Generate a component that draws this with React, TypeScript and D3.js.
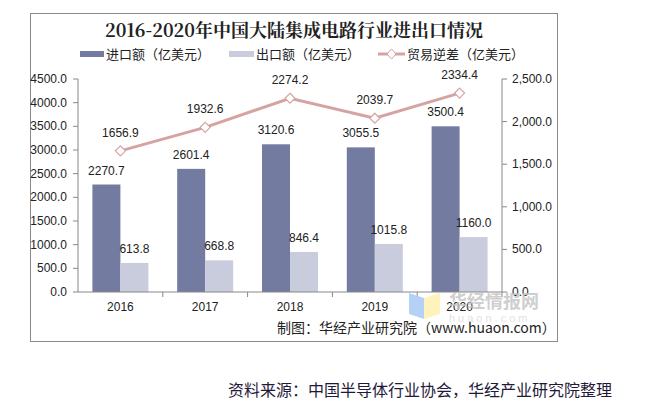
import React from "react";
import * as d3 from "d3";

const years = ["2016", "2017", "2018", "2019", "2020"];
const imports = [2270.7, 2601.4, 3120.6, 3055.5, 3500.4];
const exportsV = [613.8, 668.8, 846.4, 1015.8, 1160.0];
const deficit = [1656.9, 1932.6, 2274.2, 2039.7, 2334.4];
const leftTicks = [0, 500, 1000, 1500, 2000, 2500, 3000, 3500, 4000, 4500];
const rightTicks = [0, 500, 1000, 1500, 2000, 2500];

const W = 648, H = 414;
const plotL = 78, plotR = 502, plotT = 79, plotB = 292;
const IMP = "#737ca0", EXP = "#c8ccdc", LINE = "#d6a3a3";
const sans = "Arial, 'Liberation Sans', 'Noto Sans CJK SC', sans-serif";
const cjk = "'Noto Sans CJK SC', sans-serif";

export default function App() {
  const x = d3.scaleBand().domain(years).range([plotL, plotR]);
  const yL = d3.scaleLinear().domain([0, 4500]).range([plotB, plotT]);
  const yR = d3.scaleLinear().domain([0, 2500]).range([plotB, plotT]);
  const barW = 28;
  const cx = (y: string) => (x(y) as number) + x.bandwidth() / 2;
  const line = d3
    .line<number>()
    .x((_, i) => cx(years[i]))
    .y((d) => yR(d));
  const fmt = d3.format(",.1f");

  return (
    <svg width={W} height={H} style={{ position: "absolute", left: 0, top: 0 }}>
      <rect x={0} y={0} width={W} height={H} fill="#fff" />
      <rect x={30.5} y={13.5} width={527} height={328} fill="#fff" stroke="#8a8a8a" />
      <text x={294} y={37} textAnchor="middle" fontFamily="'Noto Serif CJK SC', 'DejaVu Serif', serif" fontWeight="bold" fontSize={18} fill="#222">
        2016-2020年中国大陆集成电路行业进出口情况
      </text>
      {/* legend */}
      <g fontFamily={cjk} fontSize={13} fill="#222">
        <rect x={80} y={51} width={24} height={6} fill={IMP} />
        <text x={106} y={59}>进口额（亿美元）</text>
        <rect x={229} y={51} width={25} height={6} fill={EXP} />
        <text x={256} y={59}>出口额（亿美元）</text>
        <line x1={378} x2={405} y1={54} y2={54} stroke={LINE} strokeWidth={3} />
        <path d="M391.5,49 L396,54 L391.5,59 L387,54 Z" fill="#fff" stroke={LINE} strokeWidth={1} />
        <text x={407} y={59}>贸易逆差（亿美元）</text>
      </g>
      {/* left axis */}
      <line x1={plotL} x2={plotL} y1={plotT} y2={plotB} stroke="#888" />
      {leftTicks.map((t) => (
        <g key={"l" + t}>
          <line x1={plotL - 5} x2={plotL} y1={yL(t)} y2={yL(t)} stroke="#888" />
          <text x={67} y={yL(t) + 4} textAnchor="end" fontFamily={sans} fontSize={12} fill="#222">
            {t.toFixed(1)}
          </text>
        </g>
      ))}
      {/* right axis */}
      <line x1={plotR} x2={plotR} y1={plotT} y2={plotB} stroke="#888" />
      {rightTicks.map((t) => (
        <g key={"r" + t}>
          <line x1={plotR} x2={plotR + 5} y1={yR(t)} y2={yR(t)} stroke="#888" />
          <text x={512} y={yR(t) + 4} fontFamily={sans} fontSize={12} fill="#222">
            {fmt(t)}
          </text>
        </g>
      ))}
      {/* bars */}
      {years.map((yr, i) => (
        <g key={yr}>
          <rect x={cx(yr) - barW} y={yL(imports[i])} width={barW} height={plotB - yL(imports[i])} fill={IMP} />
          <rect x={cx(yr)} y={yL(exportsV[i])} width={barW} height={plotB - yL(exportsV[i])} fill={EXP} />
          <text x={cx(yr) - barW / 2} y={yL(imports[i]) - 10} textAnchor="middle" fontFamily={sans} fontSize={12} fill="#222">
            {imports[i].toFixed(1)}
          </text>
          <text x={cx(yr) + barW / 2} y={yL(exportsV[i]) - 10} textAnchor="middle" fontFamily={sans} fontSize={12} fill="#222">
            {exportsV[i].toFixed(1)}
          </text>
        </g>
      ))}
      {/* x axis */}
      <line x1={plotL} x2={plotR} y1={plotB} y2={plotB} stroke="#888" />
      {years.map((yr, i) => (
        <g key={"x" + yr}>
          <line x1={(x(yr) as number) + x.bandwidth()} x2={(x(yr) as number) + x.bandwidth()} y1={plotB} y2={plotB + 5} stroke="#888" />
          <text x={cx(yr)} y={plotB + 19} textAnchor="middle" fontFamily={sans} fontSize={12} fill="#222">
            {yr}
          </text>
        </g>
      ))}
      {/* watermark */}
      <g>
        <path d="M409,293 L424,298 L424,319 L409,314 Z" fill="#a9c9f5" opacity={0.85} />
        <path d="M424,298 L440,293 L440,314 L424,319 Z" fill="#fff0b0" opacity={0.85} />
        <text x={449} y={308} fontFamily={cjk} fontWeight="bold" fontSize={18} fill="#c4c4c4" opacity={0.8}>华经情报网</text>
        <text x={449} y={322} fontFamily={sans} fontSize={11} fill="#e2e2e2" letterSpacing={3}>huaon.com</text>
      </g>
      {/* line */}
      <path d={line(deficit) as string} fill="none" stroke={LINE} strokeWidth={3} />
      {deficit.map((d, i) => (
        <g key={"d" + i}>
          <path
            d={`M${cx(years[i])},${yR(d) - 5} L${cx(years[i]) + 5},${yR(d)} L${cx(years[i])},${yR(d) + 5} L${cx(years[i]) - 5},${yR(d)} Z`}
            fill="#fff"
            stroke={LINE}
            strokeWidth={1.2}
          />
          <text x={cx(years[i])} y={yR(d) - 14} textAnchor="middle" fontFamily={sans} fontSize={12} fill="#222">
            {d.toFixed(1)}
          </text>
        </g>
      ))}
      <text x={277} y={333} fontFamily={cjk} fontSize={14} fill="#222">
        制图：华经产业研究院（www.huaon.com）
      </text>
      <text x={228} y={396} fontFamily={cjk} fontSize={16} fill="#1f1a3a">
        资料来源：中国半导体行业协会，华经产业研究院整理
      </text>
    </svg>
  );
}
